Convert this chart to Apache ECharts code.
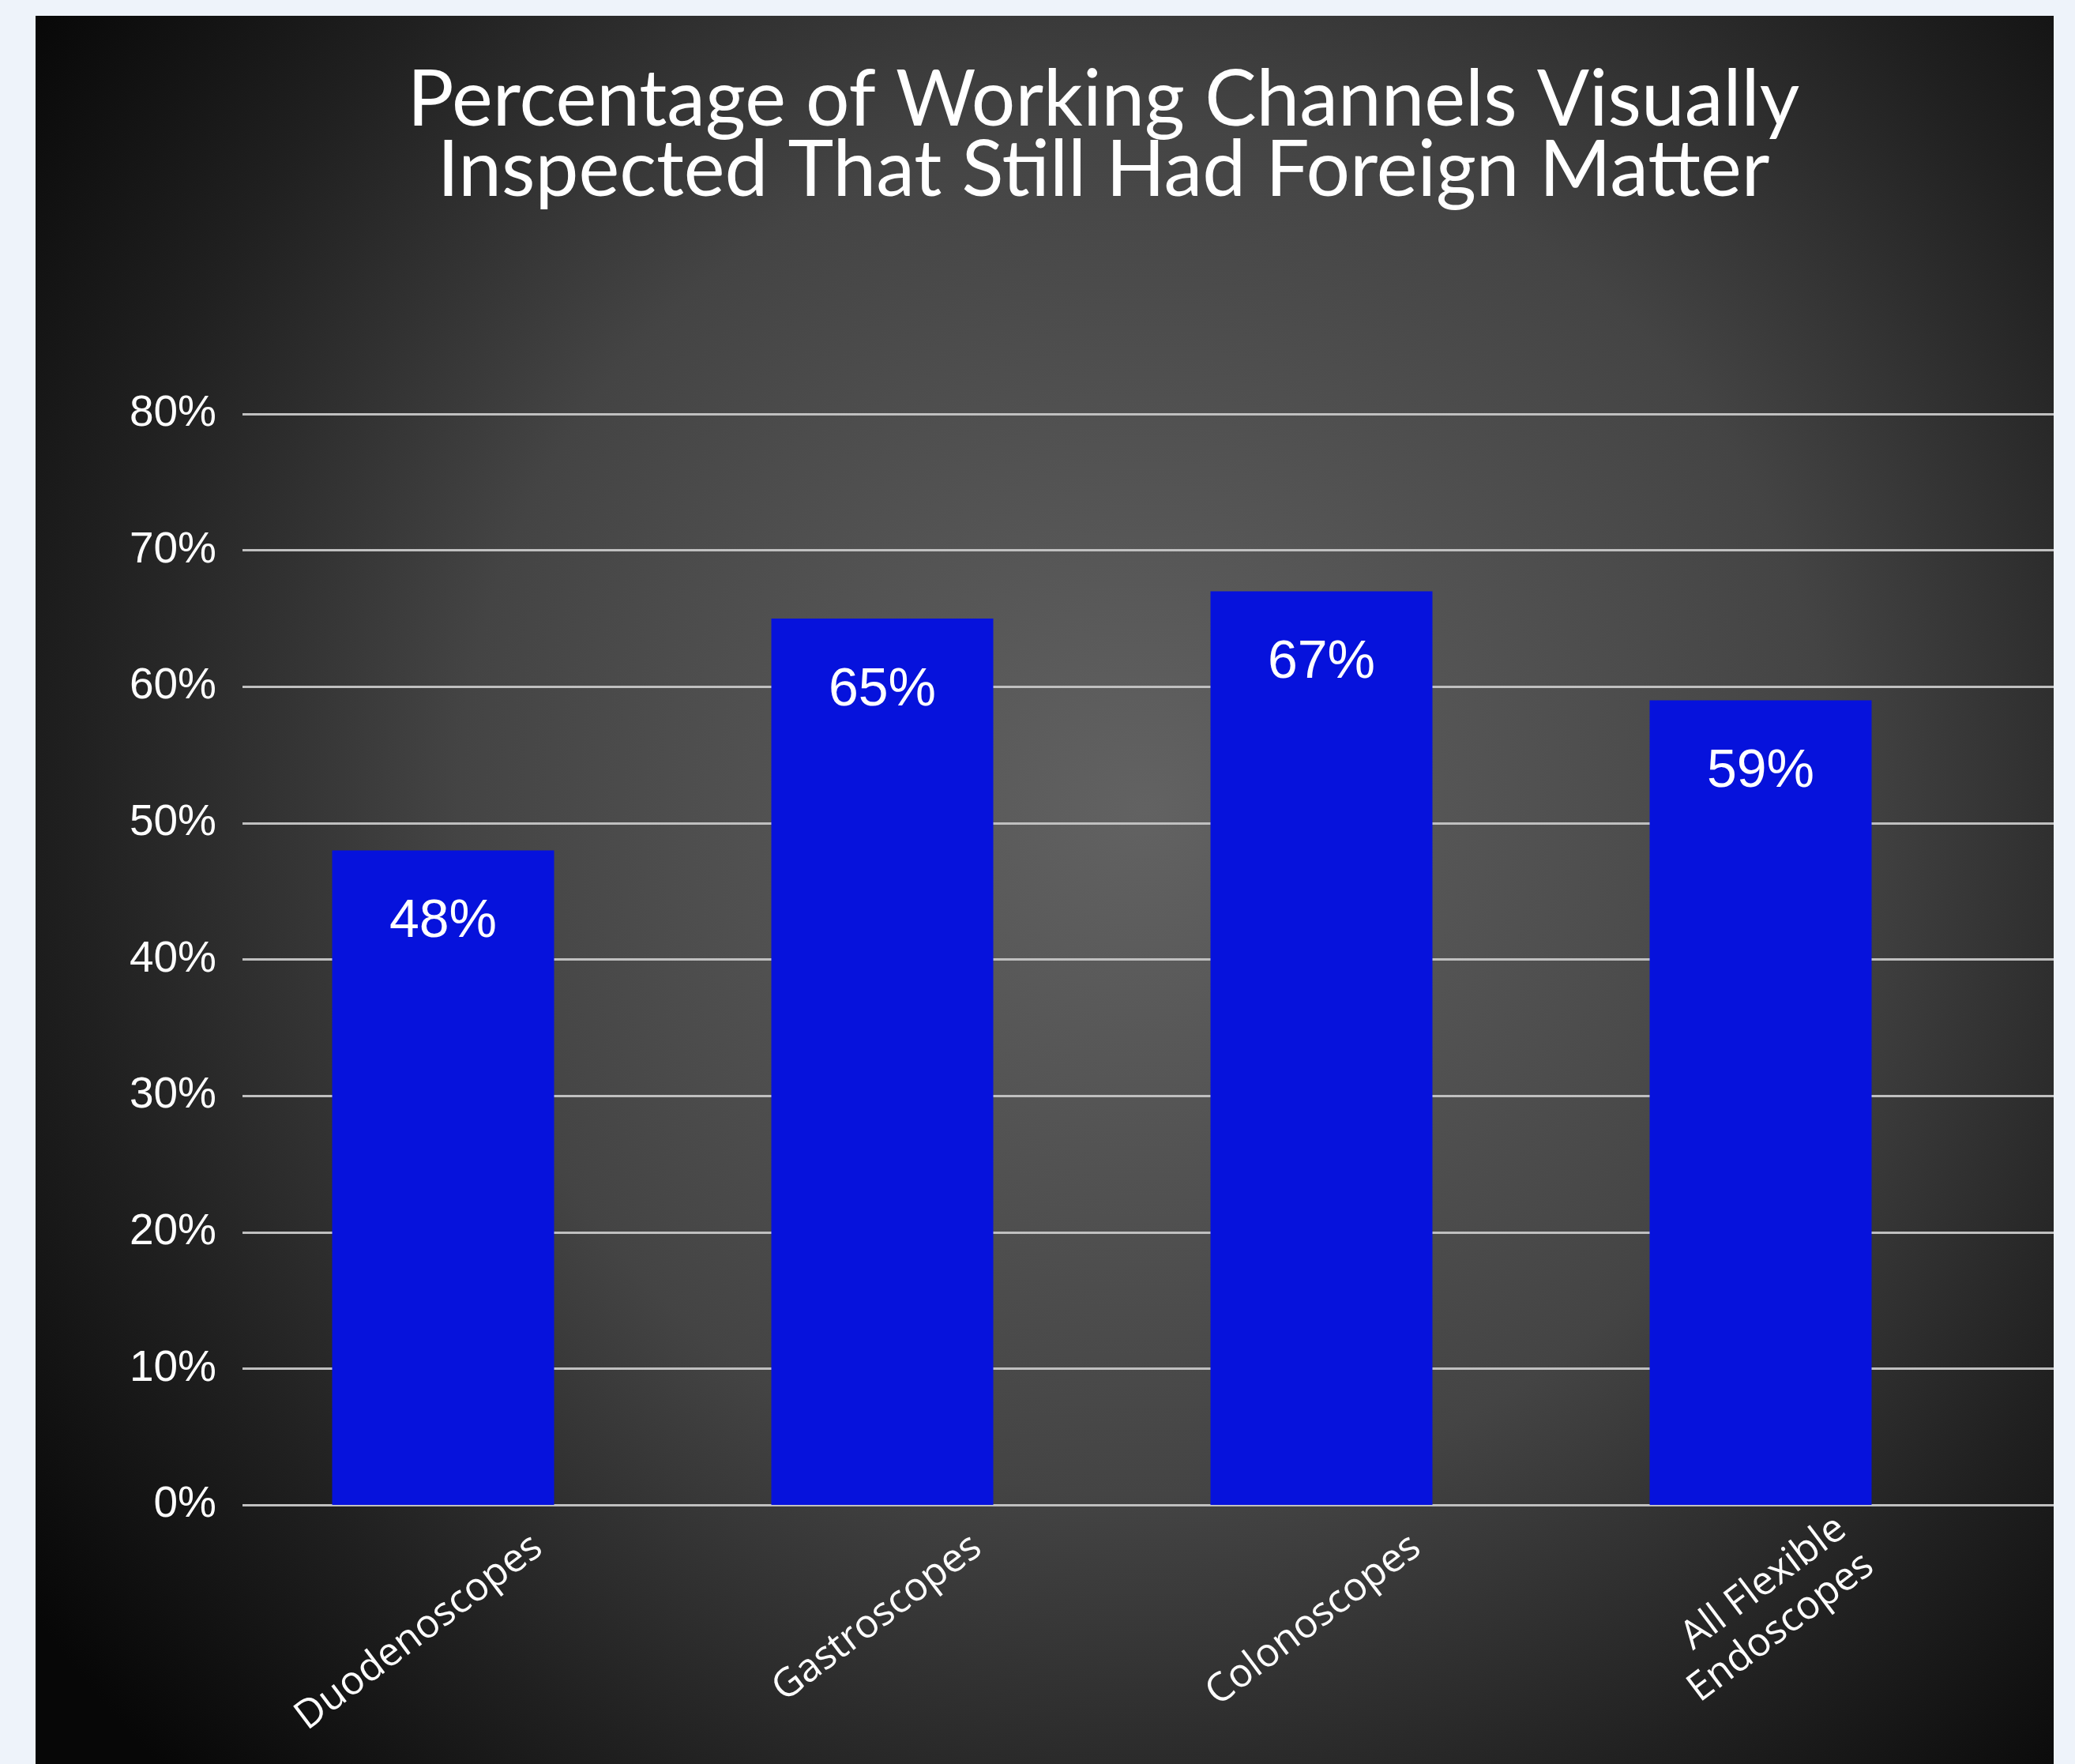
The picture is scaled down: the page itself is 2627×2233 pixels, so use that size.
<!DOCTYPE html>
<html>
<head>
<meta charset="utf-8">
<script src="https://cdn.jsdelivr.net/npm/echarts@6/dist/echarts.min.js"></script>
<style>
html,body{margin:0;padding:0;background:#eef3fa;}
#chart{width:2627px;height:2233px;}
</style>
</head>
<body>
<div id="chart"></div>
<script>
var titleLines = ['Percentage of Working Channels Visually', 'Inspected That Still Had Foreign Matter'];
var categories = ['Duodenoscopes', 'Gastroscopes', 'Colonoscopes', 'All Flexible\nEndoscopes'];
var values = [48, 65, 67, 59];
var yMin = 0, yMax = 80, yStep = 10;

var chart = echarts.init(document.getElementById('chart'));
var numFont = '"Liberation Sans Narrow", "Liberation Sans", Arial, sans-serif';
var top0 = 524, h0 = 1381;
var option = {
  backgroundColor: '#eef3fa',
  animation: false,
  graphic: [{
    type: 'rect', z: -10, silent: true,
    shape: {x: 45, y: 20, width: 2555, height: 2230},
    style: {
      fill: new echarts.graphic.RadialGradient(0.55, 0.45, 0.78, [
        {offset: 0, color: '#626262'},
        {offset: 0.5, color: '#444444'},
        {offset: 0.78, color: '#202020'},
        {offset: 1, color: '#070707'}
      ])
    }
  }],
  title: {
    text: titleLines.join('\n'),
    left: 1392, top: 78, textAlign: 'center',
    textStyle: {color: '#ffffff', fontFamily: 'Lato, "Open Sans", sans-serif', fontWeight: 'normal', fontSize: 98, lineHeight: 89}
  },
  grid: [
    {left: 307, right: 27, top: top0, height: h0},
    {left: 283, width: 2224, top: top0, height: h0},
    {left: 283 + 120, width: 2224, top: top0, height: h0}
  ],
  xAxis: [
    {gridIndex: 0, type: 'category', data: categories, show: false},
    {gridIndex: 1, type: 'category', data: categories, axisLine: {show: false}, axisTick: {show: false}, axisLabel: {show: false}},
    {gridIndex: 2, type: 'category', data: categories, axisLine: {show: false}, axisTick: {show: false},
      axisLabel: {rotate: 37, margin: 48, color: '#ffffff', fontFamily: '"Open Sans", sans-serif', fontSize: 50, lineHeight: 58, interval: 0}}
  ],
  yAxis: [
    {gridIndex: 0, type: 'value', min: yMin, max: yMax, interval: yStep,
      axisLine: {show: false}, axisTick: {show: false},
      axisLabel: {formatter: '{value}%', color: '#ffffff', fontFamily: numFont, fontSize: 55, margin: 33},
      splitLine: {lineStyle: {color: '#c0c0c0', width: 3}}},
    {gridIndex: 1, type: 'value', min: yMin, max: yMax, interval: yStep, show: false, splitLine: {show: false}},
    {gridIndex: 2, type: 'value', min: yMin, max: yMax, interval: yStep, show: false, splitLine: {show: false}}
  ],
  series: [{
    type: 'bar', xAxisIndex: 1, yAxisIndex: 1,
    data: values, barWidth: 281,
    itemStyle: {color: '#0612dc'},
    label: {show: true, position: 'insideTop', distance: 57, formatter: '{c}%', color: '#ffffff',
      fontFamily: numFont, fontSize: 68, lineHeight: 68}
  }]
};
chart.setOption(option);
</script>
</body>
</html>
